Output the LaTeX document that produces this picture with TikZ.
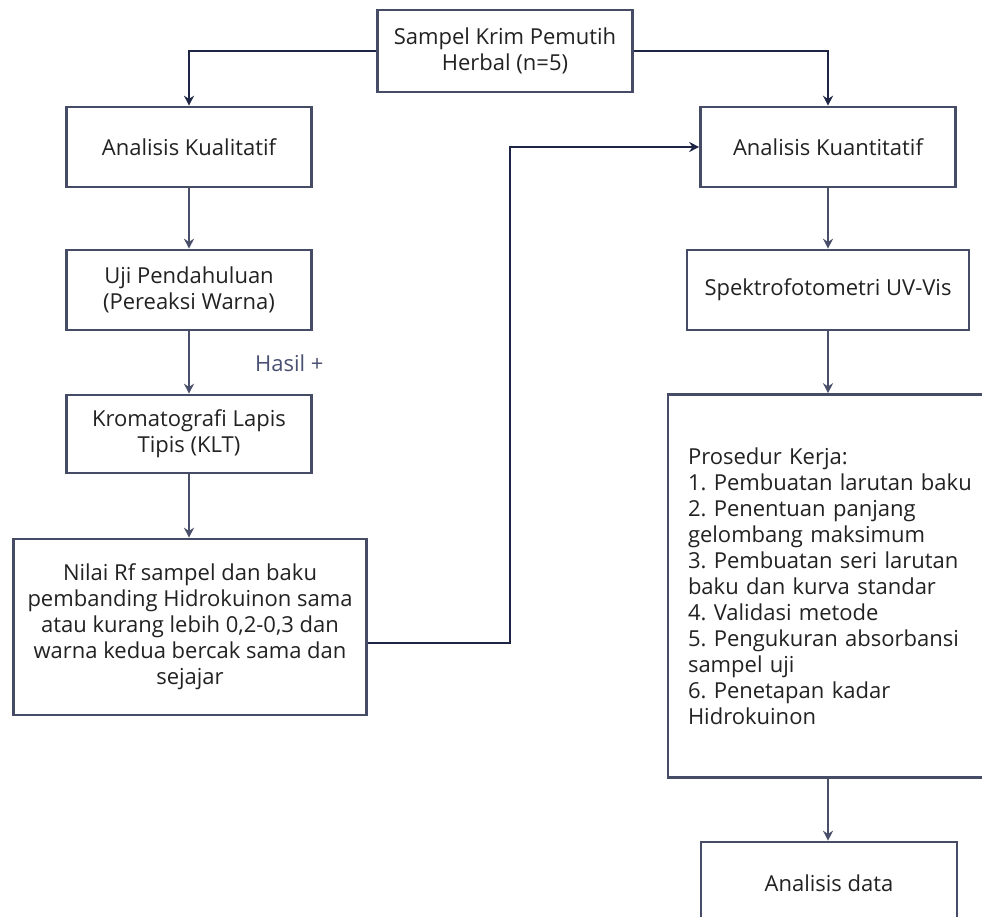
\documentclass[tikz,border=0pt]{standalone}
\usepackage{fontspec}
\setmainfont{Open Sans}
\usetikzlibrary{arrows.meta}
\definecolor{boxc}{HTML}{474C66}
\definecolor{arrc}{HTML}{4A4F69}
\definecolor{darkc}{HTML}{1F2545}
\definecolor{labc}{HTML}{4A5072}
\definecolor{txtc}{HTML}{222222}
\frenchspacing
\begin{document}
\begin{tikzpicture}[x=1pt,y=-1pt,
  font=\fontsize{22}{26}\selectfont, text=txtc,
  box/.style={draw=boxc, line width=2.6pt, fill=white, align=center, inner sep=0pt},
  arr/.style={draw=arrc, line width=1.6pt, -{Stealth[length=10pt,width=10pt]}},
  darr/.style={draw=darkc, line width=1.6pt, -{Stealth[length=10pt,width=10pt]}}]
\useasboundingbox (0,0) rectangle (982,917);
\clip (0,0) rectangle (982,917);
% nodes
\node[box, minimum width=255pt, minimum height=82pt] (top) at (505,51) {Sampel Krim Pemutih\\Herbal (n=5)};
\node[box, minimum width=245pt, minimum height=80pt] (kual) at (189,147) {Analisis Kualitatif};
\node[box, minimum width=245pt, minimum height=80pt] (uji) at (189,290) {Uji Pendahuluan\\(Pereaksi Warna)};
\node[box, minimum width=245pt, minimum height=78pt] (klt) at (189,434) {Kromatografi Lapis\\Tipis (KLT)};
\node[box, minimum width=353pt, minimum height=176pt] (nilai) at (190,627) {Nilai Rf sampel dan baku\\pembanding Hidrokuinon sama\\atau kurang lebih 0,2-0,3 dan\\warna kedua bercak sama dan\\sejajar};
\node[box, minimum width=255pt, minimum height=80pt] (kuan) at (828,147) {Analisis Kuantitatif};
\node[box, minimum width=282pt, minimum height=80pt] (spek) at (828,290) {Spektrofotometri UV-Vis};
\node[box, minimum height=383pt, text width=320pt, inner xsep=20pt, align=left] (pros) at (848,586) {Prosedur Kerja:\\1. Pembuatan larutan baku\\2. Penentuan panjang\\gelombang maksimum\\3. Pembuatan seri larutan\\baku dan kurva standar\\4. Validasi metode\\5. Pengukuran absorbansi\\sampel uji\\6. Penetapan kadar\\Hidrokuinon};
\node[box, minimum width=256pt, minimum height=82pt] (data) at (829,883) {Analisis data};
\node[text=labc, anchor=west, inner sep=0pt] (hasil) at (255,363) {Hasil +};
% connectors
\draw[darr] (top.west) -| (kual.north);
\draw[darr] (top.east) -| (kuan.north);
\draw[arr] (kual.south) -- (uji.north);
\draw[arr] (uji.south) -- (klt.north);
\draw[arr] (klt.south) -- (nilai.north -| klt.south);
\coordinate (j1) at (510,643);
\draw[darr] (nilai.east |- j1) -- (j1) |- (kuan.west);
\draw[arr] (kuan.south) -- (spek.north);
\draw[arr] (spek.south) -- (pros.north -| spek.south);
\draw[arr] (pros.south -| spek.south) -- (data.north -| spek.south);
\end{tikzpicture}
\end{document}
